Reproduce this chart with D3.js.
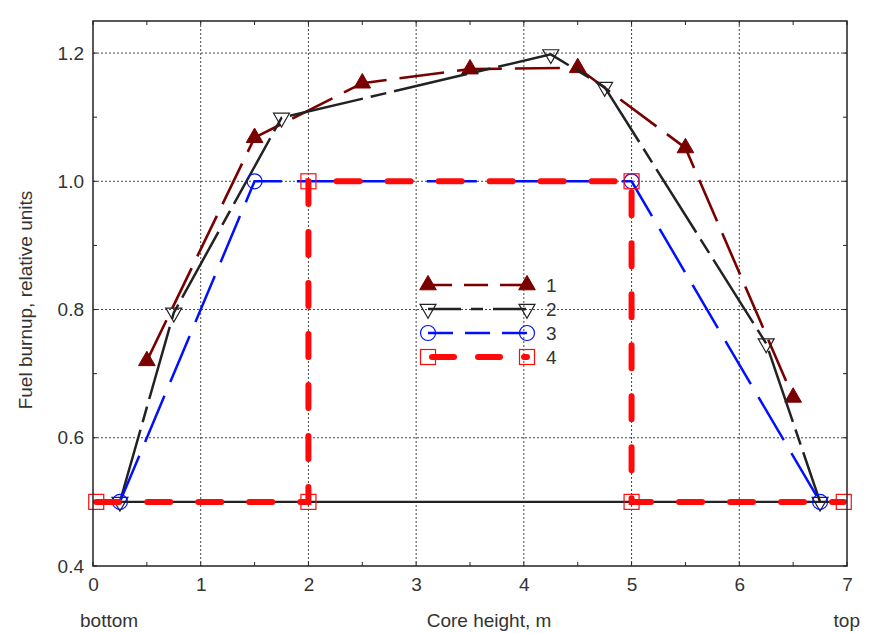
<!DOCTYPE html>
<html>
<head>
<meta charset="utf-8">
<script src="https://cdn.jsdelivr.net/npm/d3@7"></script>
<style>
  body { margin: 0; background: #fff; }
  svg text { font-family: "Liberation Sans", Arial, sans-serif; fill: #333; }
</style>
</head>
<body>
<div id="vis"></div>
<script>
// values
const s1x = [0.5, 1.5, 2.5, 3.5, 4.5, 5.5, 6.5];
const s1y = [0.72, 1.068, 1.153, 1.175, 1.177, 1.052, 0.663];

const s2x = [0.25, 0.75, 1.75, 4.25, 4.75, 6.25, 6.75];
const s2y = [0.5, 0.795, 1.099, 1.198, 1.147, 0.747, 0.5];

const s3x = [0.25, 1.5, 5.0, 6.75];
const s3y = [0.5, 1.0, 1.0, 0.5];

const s4x = [0.03, 2, 2, 5, 5, 6.97];
const s4y = [0.5, 0.5, 1.0, 1.0, 0.5, 0.5];

// black reference level across the core
const baseX = [0, 7];
const baseY = [0.5, 0.5];

const xTicks = [0, 1, 2, 3, 4, 5, 6, 7];
const yTicks = [0.4, 0.6, 0.8, 1.0, 1.2];
const legendLabels = ["1", "2", "3", "4"];

const width = 882, height = 633;
const margin = { top: 21, right: 35, bottom: 67, left: 93 };
const w = width - margin.left - margin.right;
const h = height - margin.top - margin.bottom;
const fs = "19px";

const svg = d3.select("#vis").append("svg")
    .attr("width", width)
    .attr("height", height);

const g = svg.append("g")
    .attr("transform", `translate(${margin.left},${margin.top})`);

const x = d3.scaleLinear().domain([0, 7]).range([0, w]);
const y = d3.scaleLinear().domain([0.4, 1.25]).range([h, 0]);

// grid (dotted)
g.append("g").selectAll("line")
    .data(xTicks.slice(1, -1))
    .join("line")
    .attr("x1", d => x(d)).attr("x2", d => x(d))
    .attr("y1", 0).attr("y2", h)
    .attr("stroke", "#444").attr("stroke-width", 1)
    .attr("stroke-dasharray", "2,2");
g.append("g").selectAll("line")
    .data(yTicks.slice(1))
    .join("line")
    .attr("x1", 0).attr("x2", w)
    .attr("y1", d => y(d)).attr("y2", d => y(d))
    .attr("stroke", "#444").attr("stroke-width", 1)
    .attr("stroke-dasharray", "2,2");

// axes, ticks pointing inward
const minorX = d3.range(0, 7.01, 0.5);
const minorY = d3.range(0.4, 1.251, 0.1);

function styleAxis(sel) {
    sel.select(".domain").remove();
    sel.selectAll("line").attr("stroke", "#222");
    sel.selectAll("text").style("font-size", fs).attr("fill", "#333");
}

g.append("g").attr("transform", `translate(0,${h})`)
    .call(d3.axisBottom(x).tickValues(xTicks).tickFormat(d3.format("d")).tickSize(0).tickPadding(12))
    .call(styleAxis);
g.append("g")
    .call(d3.axisLeft(y).tickValues(yTicks).tickFormat(d3.format(".1f")).tickSize(0).tickPadding(9))
    .call(styleAxis);

// minor tick marks on all four sides
const tk = 4;
g.append("g").selectAll("line").data(minorX).join("line")
    .attr("x1", d => x(d)).attr("x2", d => x(d)).attr("y1", h).attr("y2", h - tk)
    .attr("stroke", "#222");
g.append("g").selectAll("line").data(minorX).join("line")
    .attr("x1", d => x(d)).attr("x2", d => x(d)).attr("y1", 0).attr("y2", tk)
    .attr("stroke", "#222");
g.append("g").selectAll("line").data(minorY).join("line")
    .attr("x1", 0).attr("x2", tk).attr("y1", d => y(d)).attr("y2", d => y(d))
    .attr("stroke", "#222");
g.append("g").selectAll("line").data(minorY).join("line")
    .attr("x1", w).attr("x2", w - tk).attr("y1", d => y(d)).attr("y2", d => y(d))
    .attr("stroke", "#222");

// series
const lineGen = d3.line().x(d => x(d[0])).y(d => y(d[1]));
const zip = (a, b) => a.map((v, i) => [v, b[i]]);

const series = [
    { xs: s1x, ys: s1y, color: "#7a0000", width: 2.6, dash: "45,13", legDash: "24,12", cap: "butt", marker: "tri" },
    { xs: s2x, ys: s2y, color: "#222", width: 2.5, dash: "75,8,16,8", legDash: "33,10,12,10", cap: "butt", marker: "tridown" },
    { xs: s3x, ys: s3y, color: "#0010ff", width: 2.5, dash: "50,15", legDash: "25,12", cap: "butt", marker: "circle" },
    { xs: s4x, ys: s4y, color: "#ff0a0a", width: 6, dash: "23,28", legDash: "22,24", cap: "round", marker: "square" }
];

// baseline first
g.append("path")
    .attr("d", lineGen(zip(baseX, baseY)))
    .attr("fill", "none").attr("stroke", "#222").attr("stroke-width", 2.4);

function drawMarker(sel, type, color) {
    if (type === "tri") {
        sel.append("path").attr("d", d3.symbol(d3.symbolTriangle, 120)())
            .attr("fill", color).attr("stroke", color);
    } else if (type === "tridown") {
        sel.append("path").attr("d", d3.symbol(d3.symbolTriangle, 110)())
            .attr("transform", "rotate(180)")
            .attr("fill", "none").attr("stroke", "#222").attr("stroke-width", 1.2);
    } else if (type === "circle") {
        sel.append("circle").attr("r", 7.5)
            .attr("fill", "none").attr("stroke", color).attr("stroke-width", 1.2);
    } else {
        sel.append("rect").attr("x", -7.5).attr("y", -7.5).attr("width", 15).attr("height", 15)
            .attr("fill", "none").attr("stroke", color).attr("stroke-width", 1.2);
    }
}

series.forEach(s => {
    const pts = zip(s.xs, s.ys);
    g.append("path")
        .attr("d", lineGen(pts))
        .attr("fill", "none")
        .attr("stroke", s.color)
        .attr("stroke-width", s.width)
        .attr("stroke-dasharray", s.dash)
        .attr("stroke-linecap", s.cap);
    pts.forEach(p => {
        const m = g.append("g").attr("transform", `translate(${x(p[0])},${y(p[1])})`);
        drawMarker(m, s.marker, s.color);
    });
});

// frame
g.append("rect")
    .attr("width", w).attr("height", h)
    .attr("fill", "none").attr("stroke", "#222").attr("stroke-width", 1.5);

// legend
const legend = svg.append("g").attr("transform", "translate(428,285)");
series.forEach((s, i) => {
    const row = legend.append("g").attr("transform", `translate(0,${i * 24})`);
    row.append("line")
        .attr("x1", i === 3 ? 4 : 0).attr("x2", 99)
        .attr("stroke", s.color).attr("stroke-width", s.width)
        .attr("stroke-dasharray", s.legDash)
        .attr("stroke-linecap", s.cap);
    drawMarker(row.append("g"), s.marker, s.color);
    drawMarker(row.append("g").attr("transform", "translate(99,0)"), s.marker, s.color);
    row.append("text").attr("x", 118).attr("y", 7)
        .style("font-size", fs).text(legendLabels[i]);
});

// axis titles
svg.append("text").attr("x", 489).attr("y", 627).attr("text-anchor", "middle")
    .style("font-size", fs).text("Core height, m");
svg.append("text").attr("x", 80).attr("y", 627)
    .style("font-size", fs).text("bottom");
svg.append("text").attr("x", 860).attr("y", 627).attr("text-anchor", "end")
    .style("font-size", fs).text("top");
svg.append("text")
    .attr("transform", "translate(32,300) rotate(-90)")
    .attr("text-anchor", "middle")
    .style("font-size", fs).text("Fuel burnup, relative units");
</script>
</body>
</html>
